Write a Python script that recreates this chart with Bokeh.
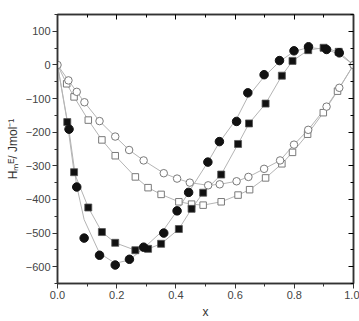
from bokeh.plotting import figure
from bokeh.models import LinearAxis, FixedTicker, NumeralTickFormatter, Range1d
from bokeh.embed import file_html
from bokeh.resources import INLINE

# filled circles
xa = [0.039, 0.065, 0.090, 0.142, 0.195, 0.243, 0.291, 0.359, 0.404, 0.443, 0.508,
      0.547, 0.605, 0.643, 0.698, 0.750, 0.799, 0.848, 0.909, 0.952]
ya = [-191, -363, -515, -566, -595, -578, -542, -500, -434, -379, -289,
      -228, -168, -83, -29, 13, 42, 54, 46, 36]
# fitted curve for filled circles
fa_x = [0.0, 0.039, 0.065, 0.090, 0.142, 0.195, 0.243, 0.291, 0.359, 0.404, 0.443, 0.508,
        0.547, 0.605, 0.643, 0.698, 0.750, 0.799, 0.848, 0.909, 0.952, 1.0]
fa_y = [0, -195, -360, -460, -560, -590, -580, -545, -490, -434, -379, -289,
        -230, -160, -95, -35, 10, 40, 52, 46, 32, 0]
# filled squares
xb = [0.033, 0.056, 0.104, 0.150, 0.195, 0.263, 0.306, 0.350, 0.410, 0.453, 0.492,
      0.553, 0.610, 0.647, 0.703, 0.758, 0.794, 0.847, 0.899, 0.950]
yb = [-170, -319, -424, -497, -529, -551, -547, -532, -488, -428, -380,
      -326, -235, -174, -115, -32, 12, 44, 51, 39]
# open circles
xc = [0.0, 0.037, 0.065, 0.091, 0.142, 0.195, 0.242, 0.291, 0.359, 0.404, 0.447, 0.509,
      0.548, 0.605, 0.645, 0.698, 0.752, 0.799, 0.847, 0.909, 0.952, 1.0]
yc = [0, -46, -80, -111, -167, -213, -253, -284, -322, -338, -350, -358,
      -355, -346, -333, -309, -284, -237, -193, -124, -68, 0]
# open squares
xd = [0.031, 0.056, 0.104, 0.150, 0.195, 0.263, 0.306, 0.350, 0.410, 0.453, 0.492,
      0.553, 0.610, 0.649, 0.703, 0.758, 0.794, 0.845, 0.898, 0.946]
yd = [-56, -95, -164, -223, -270, -333, -365, -385, -407, -414, -417,
      -407, -387, -371, -336, -294, -260, -206, -142, -78]

x_major = [0.0, 0.2, 0.4, 0.6, 0.8, 1.0]
x_minor = [0.1, 0.3, 0.5, 0.7, 0.9]
y_major = [-600, -500, -400, -300, -200, -100, 0, 100]
y_minor = [-650, -550, -450, -350, -250, -150, -50, 50, 150]

p = figure(width=359, height=321, output_backend="svg", toolbar_location=None,
           x_range=Range1d(0, 1.0), y_range=Range1d(-650, 150),
           min_border_left=57, min_border_right=6, min_border_top=14, min_border_bottom=34)
p.grid.visible = False
p.outline_line_color = "#333333"
p.outline_line_width = 1.5

line_col = "#b4b4b4"
p.line(fa_x, fa_y, line_color=line_col, line_width=1)
p.line([0.0] + xb + [1.0], [0] + yb + [0], line_color=line_col, line_width=1)
p.line(xc, yc, line_color=line_col, line_width=1)
p.line([0.0] + xd + [1.0], [0] + yd + [0], line_color=line_col, line_width=1)

p.scatter(xd, yd, marker="square", size=6.5, fill_color="white", line_color="#7a7a7a", line_width=1)
p.scatter(xc, yc, marker="circle", size=7.5, fill_color="white", line_color="#7a7a7a", line_width=1)
p.scatter(xb, yb, marker="square", size=7, fill_color="#111111", line_color="#555555", line_width=0.8)
p.scatter(xa, ya, marker="circle", size=8.5, fill_color="#111111", line_color="#111111")

xt = FixedTicker(ticks=x_major, minor_ticks=x_minor)
yt = FixedTicker(ticks=y_major, minor_ticks=y_minor)

for ax in p.xaxis:
    ax.ticker = xt
    ax.formatter = NumeralTickFormatter(format="0.0")
    ax.axis_label = "x"
for ax in p.yaxis:
    ax.ticker = yt
    ax.axis_label = "H\u2098\u1d31/ Jmol\u207b\u00b9"

for ax in list(p.xaxis) + list(p.yaxis):
    ax.axis_line_color = "#333333"
    ax.axis_line_width = 1.5
    ax.major_tick_line_color = "#333333"
    ax.minor_tick_line_color = "#333333"
    ax.major_tick_in = 0
    ax.major_tick_out = 5
    ax.minor_tick_in = 0
    ax.minor_tick_out = 3
    ax.major_label_text_font = "Liberation Sans"
    ax.major_label_text_font_size = "11px"
    ax.major_label_text_color = "#444444"
    ax.major_label_standoff = 2
    ax.axis_label_text_font = "Liberation Sans"
    ax.axis_label_text_font_size = "12px"
    ax.axis_label_text_font_style = "normal"
    ax.axis_label_text_color = "#333333"
    ax.axis_label_standoff = 3

top = LinearAxis(ticker=FixedTicker(ticks=x_major, minor_ticks=x_minor),
                 major_label_overrides={t: "" for t in x_major},
                 major_tick_in=5, major_tick_out=0, minor_tick_in=3, minor_tick_out=0,
                 major_label_standoff=0, axis_line_color="#333333", axis_line_width=1.5)
right = LinearAxis(ticker=FixedTicker(ticks=y_major, minor_ticks=y_minor),
                   major_label_overrides={t: "" for t in y_major},
                   major_tick_in=5, major_tick_out=0, minor_tick_in=3, minor_tick_out=0,
                   major_label_standoff=0, axis_line_color="#333333", axis_line_width=1.5)
p.add_layout(top, "above")
p.add_layout(right, "right")

open("out.html", "w").write(file_html(p, INLINE))
